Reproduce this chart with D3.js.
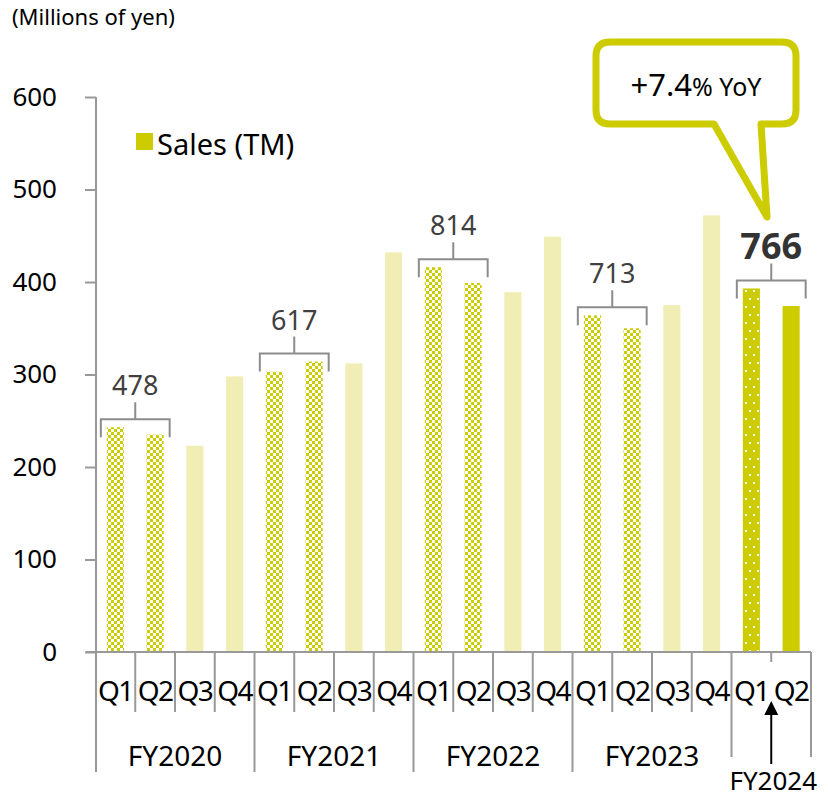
<!DOCTYPE html>
<html>
<head>
<meta charset="utf-8">
<script src="https://cdn.jsdelivr.net/npm/d3@7"></script>
<style>
  body { margin: 0; background: #fff; }
  text { font-family: "Noto Sans", "Open Sans", sans-serif; }
</style>
</head>
<body>
<svg id="chart"></svg>
<script>
(function() {

  // data
  const years = ['FY2020', 'FY2021', 'FY2022', 'FY2023', 'FY2024'];
  const quarters = ['Q1', 'Q2', 'Q3', 'Q4'];
  const sales = [
    243, 235, 223, 298,
    303, 314, 312, 432,
    416, 399, 389, 449,
    364, 350, 375, 472,
    393, 374
  ];
  const halfTotals = ['478', '617', '814', '713', '766'];
  const yTicks = [0, 100, 200, 300, 400, 500, 600];
  const seriesName = 'Sales (TM)';
  const unitLabel = '(Millions of yen)';
  const yoyLabel = ['+7.4', '% YoY'];

  const width = 828;
  const height = 800;
  const dark = '#cccc00';
  const light = '#f0eeb4';
  const axisGray = '#999';

  const svg = d3.select('#chart').attr('width', width).attr('height', height);

  const defs = svg.append('defs');
  const checker = defs.append('pattern').attr('id', 'checker')
    .attr('patternUnits', 'userSpaceOnUse').attr('width', 6).attr('height', 6);
  checker.append('rect').attr('width', 6).attr('height', 6).attr('fill', dark);
  checker.append('rect').attr('width', 3).attr('height', 3).attr('fill', '#fff');
  checker.append('rect').attr('x', 3).attr('y', 3).attr('width', 3).attr('height', 3).attr('fill', '#fff');

  const dots = defs.append('pattern').attr('id', 'dots')
    .attr('patternUnits', 'userSpaceOnUse').attr('width', 8).attr('height', 16);
  dots.append('rect').attr('width', 8).attr('height', 16).attr('fill', dark);
  dots.append('rect').attr('x', 1).attr('y', 2).attr('width', 2).attr('height', 2).attr('fill', '#fff');
  dots.append('rect').attr('x', 5).attr('y', 10).attr('width', 2).attr('height', 2).attr('fill', '#fff');

  const idx = sales.map(function(d, i) { return i; });
  const x = d3.scaleBand().domain(idx).range([95.5, 811])
    .paddingInner(0.57).paddingOuter(0.285);
  const step = x.step();
  const y = d3.scaleLinear().domain([0, 600]).range([652, 97]);
  const xEdge = function(i) { return x.range()[0] + i * step; };

  const fillFor = function(i) {
    const yr = Math.floor(i / 4), q = i % 4;
    if (yr === 4) return q === 0 ? 'url(#dots)' : dark;
    return q < 2 ? 'url(#checker)' : light;
  };

  // unit label
  svg.append('text').attr('x', 12).attr('y', 25)
    .style('font-size', '22px').attr('fill', '#000').text(unitLabel);

  // y axis
  const yAxis = svg.append('g').attr('transform', 'translate(96,0)')
    .call(d3.axisLeft(y).tickValues(yTicks).tickSize(11).tickPadding(28));
  yAxis.select('.domain').remove();
  yAxis.selectAll('line').attr('stroke', axisGray).attr('stroke-width', 2);
  yAxis.selectAll('text').style('font-size', '26px').attr('fill', '#000')
    .attr('font-family', '"Noto Sans", sans-serif');
  svg.append('line').attr('x1', 96).attr('x2', 96).attr('y1', y(600)).attr('y2', 772)
    .attr('stroke', axisGray).attr('stroke-width', 2);

  // bars
  svg.append('g').selectAll('rect').data(sales).enter().append('rect')
    .attr('x', function(d, i) { return x(i); })
    .attr('y', function(d) { return y(d); })
    .attr('width', x.bandwidth())
    .attr('height', function(d) { return y(0) - y(d); })
    .attr('fill', function(d, i) { return fillFor(i); });

  // x axis line
  svg.append('line').attr('x1', 86).attr('x2', 811).attr('y1', y(0)).attr('y2', y(0))
    .attr('stroke', axisGray).attr('stroke-width', 2);

  // separators
  for (let i = 1; i <= sales.length; i++) {
    const bx = xEdge(i);
    let y2 = 712;
    if (i % 4 === 0 && i < 16) y2 = 772;
    if (i >= 16) y2 = 757;
    if (i === 17) y2 = 662;
    svg.append('line').attr('x1', bx).attr('x2', bx).attr('y1', y(0)).attr('y2', y2)
      .attr('stroke', axisGray).attr('stroke-width', 2);
  }

  // quarter labels
  svg.append('g').selectAll('text').data(sales).enter().append('text')
    .attr('x', function(d, i) { return x(i) + x.bandwidth() / 2; })
    .attr('y', 701)
    .attr('text-anchor', 'middle')
    .style('font-size', '28px')
    .style('letter-spacing', '-1.5px')
    .text(function(d, i) { return quarters[i % 4]; });

  // year labels
  years.forEach(function(yr, k) {
    const first = k * 4;
    const last = Math.min(first + 3, sales.length - 1);
    const cx = (xEdge(first) + xEdge(last + 1)) / 2;
    if (k < 4) {
      svg.append('text').attr('x', cx).attr('y', 766).attr('text-anchor', 'middle')
        .style('font-size', '28px').text(yr);
    } else {
      svg.append('text').attr('x', cx + 2).attr('y', 790).attr('text-anchor', 'middle')
        .style('font-size', '26px').text(yr);
      svg.append('line').attr('x1', cx).attr('x2', cx).attr('y1', 764).attr('y2', 712)
        .attr('stroke', '#000').attr('stroke-width', 2);
      svg.append('path').attr('d', 'M' + cx + ',701L' + (cx - 7) + ',715L' + (cx + 7) + ',715Z')
        .attr('fill', '#000');
    }
  });

  // first-half brackets
  halfTotals.forEach(function(label, k) {
    const a = k * 4, b = k * 4 + 1;
    const top = Math.min(y(sales[a]), y(sales[b]));
    const x1 = x(a) - 6, x2 = x(b) + x.bandwidth() + 6;
    const hy = top - 8;
    const cx = (x1 + x2) / 2;
    const g = svg.append('g');
    g.append('path')
      .attr('d', 'M' + x1 + ',' + (hy + 18) + 'V' + hy + 'H' + x2 + 'V' + (hy + 18) +
        'M' + cx + ',' + hy + 'V' + (hy - 17))
      .attr('fill', 'none').attr('stroke', '#8c8c8c').attr('stroke-width', 2);
    const last = k === halfTotals.length - 1;
    g.append('text').attr('x', cx).attr('y', hy - (last ? 21 : 24))
      .attr('text-anchor', 'middle')
      .style('font-size', last ? '36px' : '27px')
      .style('font-weight', last ? 'bold' : 'normal')
      .attr('fill', last ? '#333' : '#404040')
      .text(label);
  });

  // legend
  svg.append('rect').attr('x', 136).attr('y', 133).attr('width', 17).attr('height', 17).attr('fill', dark);
  svg.append('text').attr('x', 157).attr('y', 155).style('font-size', '29px').text(seriesName);

  // callout
  const cl = 596, cr = 796, ct = 42, cb = 124, r = 14;
  const callout = 'M' + (cl + r) + ',' + ct + 'H' + (cr - r) +
    'Q' + cr + ',' + ct + ' ' + cr + ',' + (ct + r) + 'V' + (cb - r) +
    'Q' + cr + ',' + cb + ' ' + (cr - r) + ',' + cb + 'H761L767,217L714,' + cb +
    'H' + (cl + r) + 'Q' + cl + ',' + cb + ' ' + cl + ',' + (cb - r) + 'V' + (ct + r) +
    'Q' + cl + ',' + ct + ' ' + (cl + r) + ',' + ct + 'Z';
  svg.append('path').attr('d', callout).attr('fill', '#fff')
    .attr('stroke', dark).attr('stroke-width', 7).attr('stroke-linejoin', 'round');
  const t = svg.append('text').attr('x', 696).attr('y', 96).attr('text-anchor', 'middle');
  t.append('tspan').style('font-size', '31px').text(yoyLabel[0]);
  t.append('tspan').style('font-size', '25px').text(yoyLabel[1]);

})();
</script>
</body>
</html>
